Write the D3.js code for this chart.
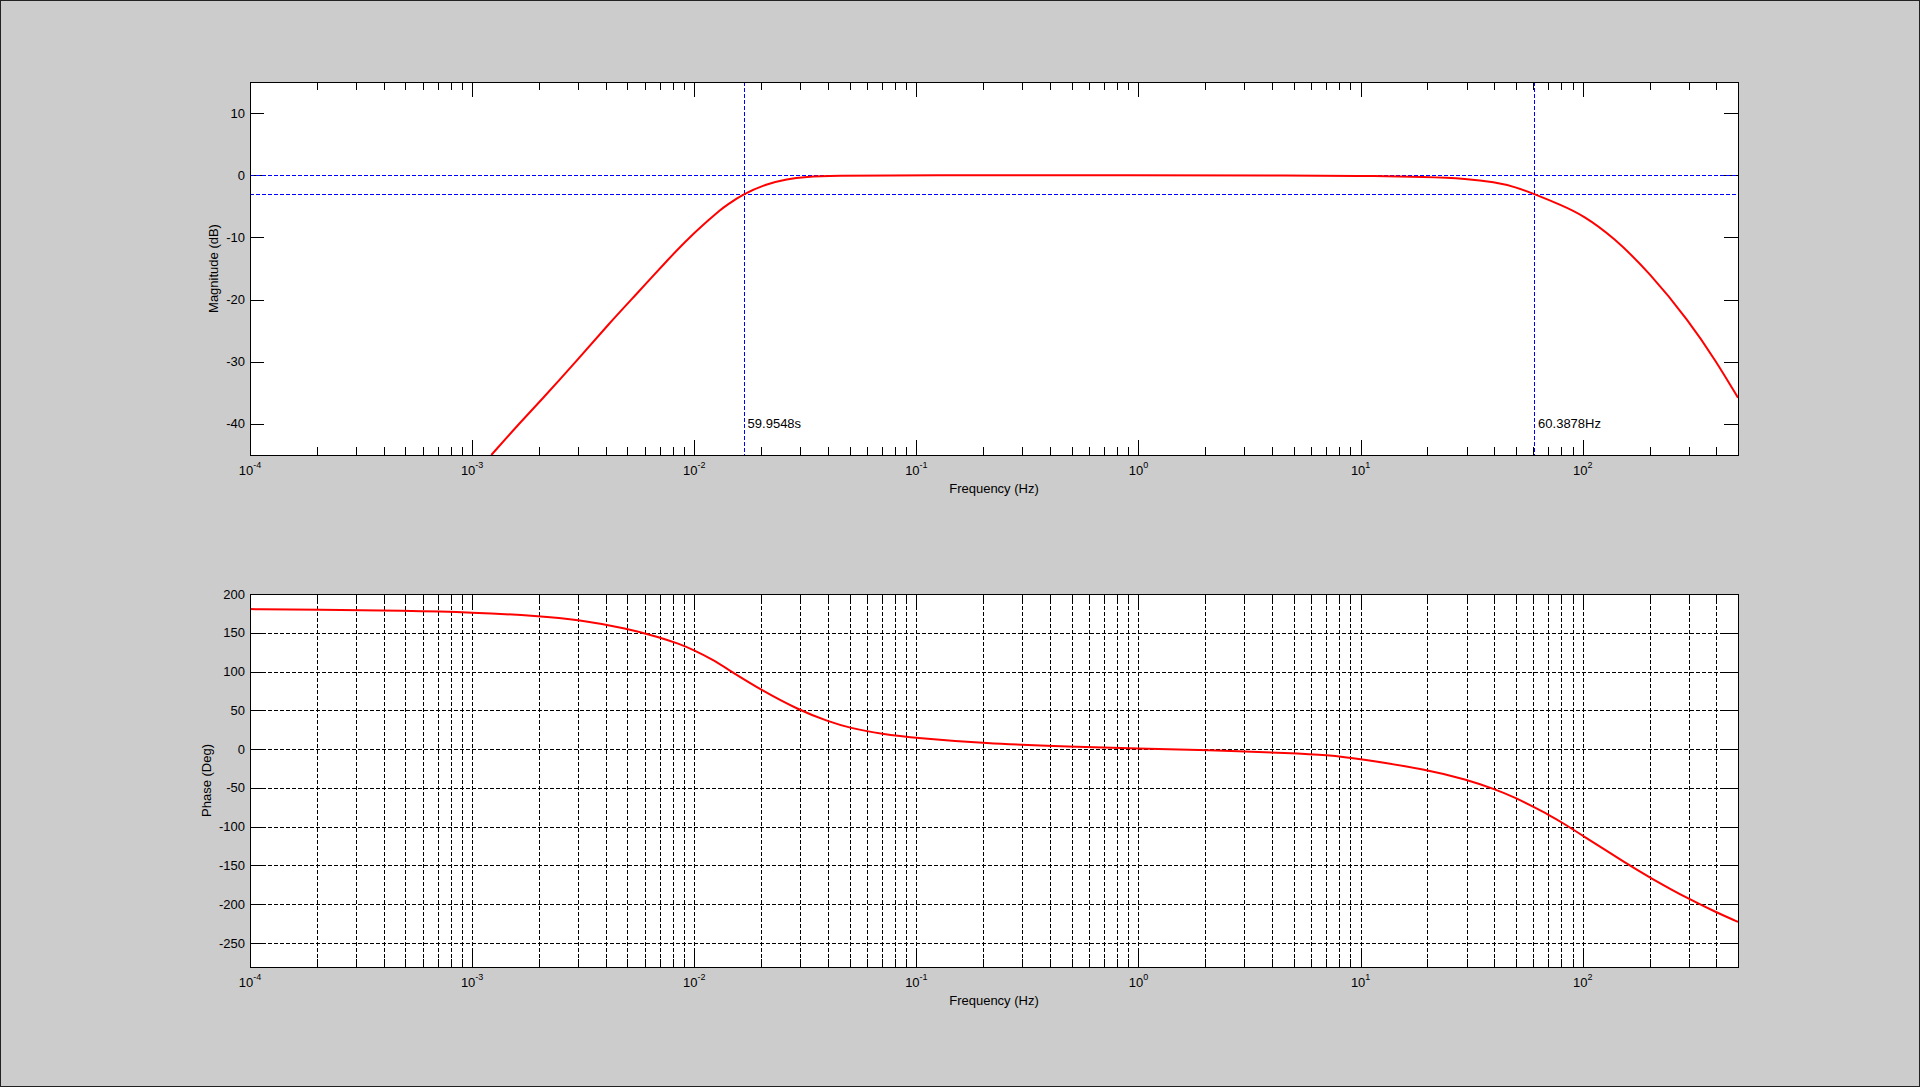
<!DOCTYPE html>
<html>
<head>
<meta charset="utf-8">
<script src="https://cdn.jsdelivr.net/npm/d3@7"></script>
<style>
body { margin: 0; background: #cccccc; overflow: hidden; }
svg text { font-family: "Liberation Sans", Arial, Helvetica, sans-serif; fill: #000; }
</style>
</head>
<body>
<div id="chart"></div>
<script>

// magnitude response (Hz, dB)
var magFreq = [0.00122, 0.001585, 0.002055, 0.00295, 0.00417, 0.0055, 0.00764, 0.00957, 0.01178, 0.01306, 0.0140,
    0.01663, 0.0212, 0.0261, 0.0321, 0.0406, 0.1, 1, 5.35, 10, 20, 30, 40, 50, 60.39, 80, 100, 138, 200, 300, 400, 500];
var magDb = [-45.0, -40.4, -36.1, -29.9, -23.7, -19.1, -13.5, -9.9, -7.0, -5.6, -4.8,
    -3.0, -1.4, -0.6, -0.25, -0.08, 0, 0, -0.05, -0.1, -0.25, -0.55, -1.1, -1.9, -3.0, -4.8, -6.4, -10.0, -15.7, -23.4, -30.0, -35.8];

// phase response (Hz, deg)
var phaseFreq = [0.0001, 0.0002, 0.0005, 0.001, 0.002, 0.003, 0.005, 0.007, 0.0085, 0.01, 0.012, 0.0147, 0.02, 0.03, 0.04, 0.05, 0.07,
    0.1, 0.2, 0.5, 1, 2, 5, 7, 10, 20, 30, 40, 50, 60, 70, 80, 100, 158, 200, 300, 400, 500];
var phaseDeg = [180.5, 179.8, 178.5, 176.4, 171.6, 166.9, 155.5, 144.1, 136, 127.5, 116, 100, 76.2, 49.6, 35.8, 27.2, 19.5,
    14.4, 7.5, 3.2, 0.6, -1.1, -5.4, -7.6, -12.7, -26.5, -39.5, -51.4, -63, -74.6, -84.5, -93.9, -111.6, -148, -165.5, -193.5, -210.5, -222.9];

// cut-off markers
var cutLowPeriod = 59.9548;   // seconds
var cutHigh = 60.3878;        // Hz
var cutLabels = ["59.9548s", "60.3878Hz"];
var refLevels = [0, -3];

// ticks
var decadeExp = [-4, -3, -2, -1, 0, 1, 2];
var magTicks = [-40, -30, -20, -10, 0, 10];
var phaseTicks = [-250, -200, -150, -100, -50, 0, 50, 100, 150, 200];

var width = 1920, height = 1087;
var left = 250, right = 1738;

var svg = d3.select("#chart").append("svg")
    .attr("width", width)
    .attr("height", height);

svg.append("rect")
    .attr("x", 0.5).attr("y", 0.5)
    .attr("width", width - 1).attr("height", height - 1)
    .attr("fill", "#cccccc")
    .attr("stroke", "#222");

var x = d3.scaleLog().domain([1e-4, 500]).range([left, right]);

var minorTicks = [];
decadeExp.forEach(function(e) {
    for (var m = 2; m <= 9; m++) {
        var v = m * Math.pow(10, e);
        if (v <= 500) minorTicks.push(v);
    }
});
var majorTicks = decadeExp.map(function(e) { return Math.pow(10, e); });

function px(v) { return Math.round(v) + 0.5; }

function drawPanel(top, bottom, yDomain, yTicks, grid, id, ylabel, labelX) {
    var y = d3.scaleLinear().domain(yDomain).range([bottom, top]);
    var g = svg.append("g");

    g.append("rect")
        .attr("x", left).attr("y", top)
        .attr("width", right - left).attr("height", bottom - top)
        .attr("fill", "white");

    g.append("clipPath").attr("id", id)
        .append("rect")
        .attr("x", left).attr("y", top)
        .attr("width", right - left).attr("height", bottom - top);

    if (grid) {
        g.selectAll(".vgrid")
            .data(majorTicks.concat(minorTicks).filter(function(d) { return d > 1e-4; }))
            .enter().append("line")
            .attr("x1", function(d) { return px(x(d)); })
            .attr("x2", function(d) { return px(x(d)); })
            .attr("y1", top).attr("y2", bottom)
            .attr("stroke", "#000")
            .attr("stroke-dasharray", "4,2")
            .attr("shape-rendering", "crispEdges");
        g.selectAll(".hgrid")
            .data(yTicks.filter(function(d) { return d < yDomain[1]; }))
            .enter().append("line")
            .attr("x1", left).attr("x2", right)
            .attr("y1", function(d) { return px(y(d)); })
            .attr("y2", function(d) { return px(y(d)); })
            .attr("stroke", "#000")
            .attr("stroke-dasharray", "4,2")
            .attr("shape-rendering", "crispEdges");
    }

    // x ticks, bottom and top, pointing inward
    var xt = majorTicks.map(function(d) { return {v: d, len: 15}; })
        .concat(minorTicks.map(function(d) { return {v: d, len: 8}; }));
    [[bottom, -1], [top, 1]].forEach(function(side) {
        g.selectAll(null).data(xt).enter().append("line")
            .attr("x1", function(d) { return px(x(d.v)); })
            .attr("x2", function(d) { return px(x(d.v)); })
            .attr("y1", side[0])
            .attr("y2", function(d) { return side[0] + side[1] * d.len; })
            .attr("stroke", "#000")
            .attr("shape-rendering", "crispEdges");
    });

    // y ticks, left and right
    [[left, 1], [right, -1]].forEach(function(side) {
        g.selectAll(null).data(yTicks).enter().append("line")
            .attr("x1", side[0])
            .attr("x2", side[0] + side[1] * 14)
            .attr("y1", function(d) { return px(y(d)); })
            .attr("y2", function(d) { return px(y(d)); })
            .attr("stroke", "#000")
            .attr("shape-rendering", "crispEdges");
    });

    g.selectAll(null).data(yTicks).enter().append("text")
        .attr("x", left - 5)
        .attr("y", function(d) { return y(d); })
        .attr("dy", "0.35em")
        .attr("text-anchor", "end")
        .attr("font-size", "13px")
        .text(function(d) { return d; });

    var xl = g.selectAll(null).data(decadeExp).enter().append("text")
        .attr("x", function(d) { return x(Math.pow(10, d)); })
        .attr("y", bottom + 20)
        .attr("text-anchor", "middle")
        .attr("font-size", "13px");
    xl.append("tspan").text("10");
    xl.append("tspan")
        .attr("dy", -7.5)
        .attr("font-size", "9px")
        .text(function(d) { return d; });

    g.append("text")
        .attr("x", (left + right) / 2)
        .attr("y", bottom + 37.5)
        .attr("text-anchor", "middle")
        .attr("font-size", "13px")
        .text("Frequency (Hz)");

    g.append("text")
        .attr("transform", "translate(" + labelX + "," + ((top + bottom) / 2) + ") rotate(-90)")
        .attr("text-anchor", "middle")
        .attr("font-size", "13px")
        .text(ylabel);

    return {g: g, y: y};
}

// ---- magnitude panel
var mag = drawPanel(82, 455, [-45, 15], magTicks, false, "clipMag", "Magnitude (dB)", 218);

var cutFreqs = [1 / cutLowPeriod, cutHigh];

mag.g.selectAll(".href").data(refLevels).enter().append("line")
    .attr("x1", left).attr("x2", right)
    .attr("y1", function(d) { return px(mag.y(d)); })
    .attr("y2", function(d) { return px(mag.y(d)); })
    .attr("stroke", "#0000ff")
    .attr("stroke-dasharray", "4,2")
    .attr("shape-rendering", "crispEdges");

mag.g.selectAll(".vref").data(cutFreqs).enter().append("line")
    .attr("x1", function(d) { return px(x(d)); })
    .attr("x2", function(d) { return px(x(d)); })
    .attr("y1", 82).attr("y2", 455)
    .attr("stroke", "#0000ff")
    .attr("stroke-dasharray", "4,2")
    .attr("shape-rendering", "crispEdges");

mag.g.selectAll(".cutlabel").data(cutFreqs).enter().append("text")
    .attr("x", function(d) { return x(d) + 4; })
    .attr("y", mag.y(-40))
    .attr("dy", "0.35em")
    .attr("font-size", "13px")
    .text(function(d, i) { return cutLabels[i]; });

var magLine = d3.line()
    .x(function(d) { return x(d[0]); })
    .y(function(d) { return mag.y(d[1]); })
    .curve(d3.curveBasis);

mag.g.append("path")
    .datum(d3.zip(magFreq, magDb))
    .attr("clip-path", "url(#clipMag)")
    .attr("fill", "none")
    .attr("stroke", "#ff0000")
    .attr("stroke-width", 2)
    .attr("d", magLine);

mag.g.append("rect")
    .attr("x", left + 0.5).attr("y", 82.5)
    .attr("width", right - left).attr("height", 455 - 82)
    .attr("fill", "none").attr("stroke", "#000");

// ---- phase panel
var ph = drawPanel(594, 967, [-281, 200], phaseTicks, true, "clipPh", "Phase (Deg)", 211);

var phLine = d3.line()
    .x(function(d) { return x(d[0]); })
    .y(function(d) { return ph.y(d[1]); })
    .curve(d3.curveBasis);

ph.g.append("path")
    .datum(d3.zip(phaseFreq, phaseDeg))
    .attr("clip-path", "url(#clipPh)")
    .attr("fill", "none")
    .attr("stroke", "#ff0000")
    .attr("stroke-width", 2)
    .attr("d", phLine);

ph.g.append("rect")
    .attr("x", left + 0.5).attr("y", 594.5)
    .attr("width", right - left).attr("height", 967 - 594)
    .attr("fill", "none").attr("stroke", "#000");

</script>
</body>
</html>
